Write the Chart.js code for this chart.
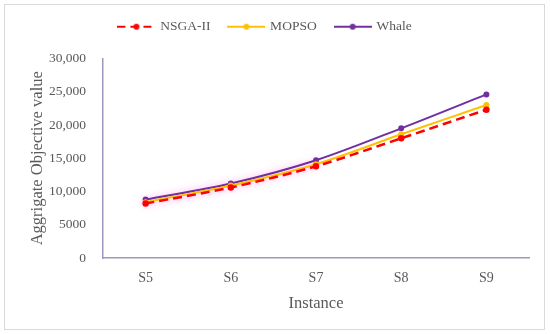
<!DOCTYPE html>
<html>
<head>
<meta charset="utf-8">
<script src="https://cdn.jsdelivr.net/npm/chart.js@4/dist/chart.umd.min.js"></script>
<style>
  html, body { margin: 0; padding: 0; background: #fff; }
  #wrap { width: 550px; height: 334px; position: relative; }
</style>
</head>
<body>
<div id="wrap"><canvas id="objChart" width="550" height="334"></canvas></div>
<script>
// chart data
const instances = ['S5', 'S6', 'S7', 'S8', 'S9'];
const nsgaValues = [8200, 10600, 13800, 18000, 22300];
const mopsoValues = [8400, 10900, 14100, 18600, 23000];
const whaleValues = [8800, 11200, 14700, 19500, 24600];
const yTicks = [0, 5000, 10000, 15000, 20000, 25000, 30000];

const FONT = "'Liberation Serif', 'DejaVu Serif', serif";
const TEXT = '#595959';
const AXIS = '#9b9bbf';

// legend swatch: short line with a dot in the middle
function swatch(color, dash) {
  const c = document.createElement('canvas');
  c.width = 38; c.height = 10;
  const g = c.getContext('2d');
  g.strokeStyle = color;
  g.lineWidth = 2;
  g.setLineDash(dash || []);
  g.beginPath(); g.moveTo(0, 5); g.lineTo(38, 5); g.stroke();
  g.fillStyle = color;
  g.beginPath(); g.arc(19, 5, 3, 0, Math.PI * 2); g.fill();
  return c;
}

// light grey frame round the whole figure + legend spacing tweaks
const framePlugin = {
  id: 'frame',
  beforeInit(chart) {
    const fit = chart.legend.fit;
    chart.legend.fit = function () { fit.call(this); this.height += 14; };
  },
  afterLayout(chart) {
    chart.legend.left -= 13;
    chart.legend.right -= 13;
    chart.legend.top -= 1;
    chart.legend.bottom -= 1;
  },
  beforeDraw(chart) {
    const ctx = chart.ctx;
    ctx.save();
    ctx.strokeStyle = '#d9d9d9';
    ctx.lineWidth = 1;
    ctx.strokeRect(4.5, 4.5, 540, 325);
    ctx.restore();
  },
  // faint pink haze along the lower part of the curves, as in the picture
  beforeDatasetsDraw(chart) {
    const x = chart.scales.x, y = chart.scales.y, ctx = chart.ctx;
    ctx.save();
    ctx.filter = 'blur(3px)';
    ctx.strokeStyle = 'rgba(255, 190, 240, 0.55)';
    ctx.lineWidth = 10;
    ctx.lineCap = 'round';
    ctx.beginPath();
    for (let i = 0; i < 3; i++) {
      const px = x.getPixelForValue(i), py = y.getPixelForValue(mopsoValues[i]);
      if (i === 0) ctx.moveTo(px, py); else ctx.lineTo(px, py);
    }
    ctx.stroke();
    ctx.restore();
  }
};

const ctx = document.getElementById('objChart').getContext('2d');
new Chart(ctx, {
  type: 'line',
  data: {
    labels: instances,
    datasets: [
      {
        label: 'NSGA-II',
        data: nsgaValues,
        borderColor: '#ff0000',
        backgroundColor: '#ff0000',
        borderWidth: 2.5,
        borderDash: [9, 5],
        pointRadius: 2,
        legendImg: swatch('#ff0000', [8, 5])
      },
      {
        label: 'MOPSO',
        data: mopsoValues,
        borderColor: '#ffc000',
        backgroundColor: '#ffc000',
        borderWidth: 2,
        pointRadius: 2,
        legendImg: swatch('#ffc000')
      },
      {
        label: 'Whale',
        data: whaleValues,
        borderColor: '#7030a0',
        backgroundColor: '#7030a0',
        borderWidth: 2,
        pointRadius: 2,
        legendImg: swatch('#7030a0')
      }
    ]
  },
  options: {
    responsive: false,
    animation: false,
    tension: 0.3,
    layout: { padding: { left: 28, right: 21, top: 2, bottom: 20 } },
    plugins: {
      tooltip: { enabled: false },
      legend: {
        position: 'top',
        labels: {
          usePointStyle: true,
          pointStyleWidth: 34,
          color: TEXT,
          font: { family: FONT, size: 13.5 },
          padding: 19,
          generateLabels(chart) {
            return chart.data.datasets.map((ds, i) => ({
              text: ds.label,
              pointStyle: ds.legendImg,
              fontColor: TEXT,
              lineWidth: 0,
              hidden: false,
              datasetIndex: i
            }));
          }
        }
      }
    },
    scales: {
      x: {
        offset: true,
        afterFit(scale) { scale.height = 56; },
        grid: { display: false, drawTicks: false },
        border: { display: true, color: AXIS, width: 1.5 },
        ticks: { color: TEXT, font: { family: FONT, size: 14 }, padding: 12 },
        title: { display: true, text: 'Instance', color: TEXT, font: { family: FONT, size: 16.5 }, padding: { top: 0, bottom: 0 } }
      },
      y: {
        min: 0,
        max: 30000,
        afterBuildTicks(axis) { axis.ticks = yTicks.map(v => ({ value: v })); },
        afterFit(scale) { scale.width = 75; },
        grid: { display: false, drawTicks: false },
        border: { display: true, color: AXIS, width: 1.5 },
        ticks: {
          color: TEXT,
          font: { family: FONT, size: 13.5 },
          padding: 17,
          callback: v => v >= 10000 ? v.toLocaleString('en-US') : String(v)
        },
        title: { display: true, text: 'Aggrigate Objective value', color: TEXT, font: { family: FONT, size: 16.5 }, padding: { top: 0, bottom: 0 } }
      }
    }
  },
  plugins: [framePlugin]
});
</script>
</body>
</html>
